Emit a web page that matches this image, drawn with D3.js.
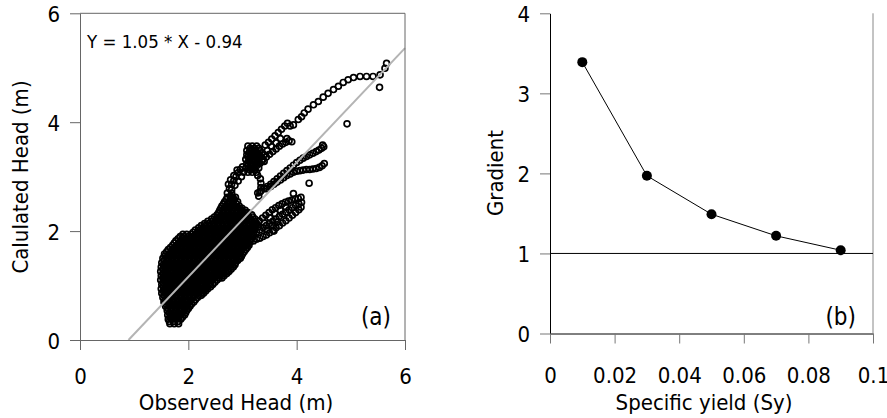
<!DOCTYPE html>
<html>
<head>
<meta charset="utf-8">
<script src="https://cdn.jsdelivr.net/npm/d3@7"></script>
<style>
  body { margin: 0; background: #fff; }
  svg text { font-family: "DejaVu Sans Condensed", "DejaVu Sans", sans-serif; font-stretch: condensed; fill: #000; }
</style>
</head>
<body>
<svg id="chart" width="887" height="418"></svg>
<script>
// ---- panel (a): observed vs calculated head ----
const headTicks = [0, 2, 4, 6];
const fitSlope = 1.05, fitIntercept = -0.94;
const fitRange = [0.895, 6];

// dense main cloud, read row by row: [calculated, [observed...]]
const cloudRows = [
  [0.30, [1.66, 1.74, 1.82]],
  [0.34, [1.65, 1.73, 1.81]],
  [0.38, [1.63, 1.70, 1.78, 1.86]],
  [0.42, [1.66, 1.74, 1.82, 1.89]],
  [0.46, [1.62, 1.70, 1.78, 1.86, 1.93]],
  [0.50, [1.65, 1.73, 1.81, 1.89, 1.95]],
  [0.54, [1.61, 1.68, 1.76, 1.84, 1.92, 1.97]],
  [0.58, [1.62, 1.70, 1.78, 1.86, 1.94, 2.00]],
  [0.62, [1.58, 1.66, 1.74, 1.82, 1.90, 1.97, 2.03]],
  [0.66, [1.59, 1.67, 1.75, 1.83, 1.91, 1.99, 2.06]],
  [0.70, [1.55, 1.63, 1.71, 1.79, 1.87, 1.95, 2.03, 2.10]],
  [0.74, [1.57, 1.65, 1.73, 1.81, 1.89, 1.97, 2.05, 2.13]],
  [0.78, [1.53, 1.61, 1.69, 1.77, 1.85, 1.93, 2.01, 2.09, 2.17]],
  [0.82, [1.55, 1.63, 1.71, 1.79, 1.87, 1.95, 2.03, 2.11, 2.19, 2.24]],
  [0.86, [1.51, 1.59, 1.67, 1.75, 1.83, 1.91, 1.99, 2.07, 2.15, 2.23, 2.28]],
  [0.90, [1.54, 1.62, 1.70, 1.78, 1.86, 1.94, 2.02, 2.10, 2.18, 2.26, 2.32]],
  [0.94, [1.50, 1.58, 1.66, 1.74, 1.82, 1.90, 1.98, 2.06, 2.14, 2.22, 2.30, 2.36]],
  [0.98, [1.54, 1.62, 1.70, 1.78, 1.86, 1.94, 2.02, 2.10, 2.18, 2.26, 2.34, 2.41]],
  [1.02, [1.51, 1.59, 1.67, 1.75, 1.83, 1.91, 1.99, 2.07, 2.15, 2.23, 2.31, 2.39, 2.45]],
  [1.06, [1.53, 1.61, 1.69, 1.77, 1.85, 1.93, 2.01, 2.09, 2.17, 2.25, 2.33, 2.41, 2.49]],
  [1.10, [1.49, 1.57, 1.65, 1.73, 1.81, 1.89, 1.97, 2.05, 2.13, 2.21, 2.29, 2.37, 2.45, 2.53]],
  [1.14, [1.53, 1.61, 1.69, 1.77, 1.85, 1.93, 2.01, 2.09, 2.17, 2.25, 2.33, 2.41, 2.49, 2.57, 2.62]],
  [1.18, [1.50, 1.58, 1.66, 1.74, 1.82, 1.90, 1.98, 2.06, 2.14, 2.22, 2.30, 2.38, 2.46, 2.54, 2.62, 2.66]],
  [1.22, [1.53, 1.61, 1.69, 1.77, 1.85, 1.93, 2.01, 2.09, 2.17, 2.25, 2.33, 2.41, 2.49, 2.57, 2.65, 2.71]],
  [1.26, [1.49, 1.57, 1.65, 1.73, 1.81, 1.89, 1.97, 2.05, 2.13, 2.21, 2.29, 2.37, 2.45, 2.53, 2.61, 2.69, 2.75]],
  [1.30, [1.53, 1.61, 1.69, 1.77, 1.85, 1.93, 2.01, 2.09, 2.17, 2.25, 2.33, 2.41, 2.49, 2.57, 2.65, 2.73, 2.79]],
  [1.34, [1.50, 1.58, 1.66, 1.74, 1.82, 1.90, 1.98, 2.06, 2.14, 2.22, 2.30, 2.38, 2.46, 2.54, 2.62, 2.70, 2.78, 2.83]],
  [1.38, [1.54, 1.62, 1.70, 1.78, 1.86, 1.94, 2.02, 2.10, 2.18, 2.26, 2.34, 2.42, 2.50, 2.58, 2.66, 2.74, 2.82, 2.86]],
  [1.42, [1.51, 1.59, 1.67, 1.75, 1.83, 1.91, 1.99, 2.07, 2.15, 2.23, 2.31, 2.39, 2.47, 2.55, 2.63, 2.71, 2.79, 2.87]],
  [1.46, [1.55, 1.63, 1.71, 1.79, 1.87, 1.95, 2.03, 2.11, 2.19, 2.27, 2.35, 2.43, 2.51, 2.59, 2.67, 2.75, 2.83, 2.91]],
  [1.50, [1.53, 1.61, 1.69, 1.77, 1.85, 1.93, 2.01, 2.09, 2.17, 2.25, 2.33, 2.41, 2.49, 2.57, 2.65, 2.73, 2.81, 2.89, 2.96]],
  [1.54, [1.57, 1.65, 1.73, 1.81, 1.89, 1.97, 2.05, 2.13, 2.21, 2.29, 2.37, 2.45, 2.53, 2.61, 2.69, 2.77, 2.85, 2.93, 2.98]],
  [1.58, [1.56, 1.64, 1.72, 1.80, 1.88, 1.96, 2.04, 2.12, 2.20, 2.28, 2.36, 2.44, 2.52, 2.60, 2.68, 2.76, 2.84, 2.92, 3.00]],
  [1.62, [1.60, 1.68, 1.76, 1.84, 1.92, 2.00, 2.08, 2.16, 2.24, 2.32, 2.40, 2.48, 2.56, 2.64, 2.72, 2.80, 2.88, 2.96, 3.03]],
  [1.66, [1.63, 1.71, 1.79, 1.87, 1.95, 2.03, 2.11, 2.19, 2.27, 2.35, 2.43, 2.51, 2.59, 2.67, 2.75, 2.83, 2.91, 2.99, 3.06]],
  [1.70, [1.67, 1.75, 1.83, 1.91, 1.99, 2.07, 2.15, 2.23, 2.31, 2.39, 2.47, 2.55, 2.63, 2.71, 2.79, 2.87, 2.95, 3.03, 3.09]],
  [1.74, [1.71, 1.79, 1.87, 1.95, 2.03, 2.11, 2.19, 2.27, 2.35, 2.43, 2.51, 2.59, 2.67, 2.75, 2.83, 2.91, 2.99, 3.07, 3.12]],
  [1.78, [1.74, 1.82, 1.90, 1.98, 2.06, 2.14, 2.22, 2.30, 2.38, 2.46, 2.54, 2.62, 2.70, 2.78, 2.86, 2.94, 3.02, 3.10]],
  [1.82, [1.77, 1.85, 1.93, 2.01, 2.09, 2.17, 2.25, 2.33, 2.41, 2.49, 2.57, 2.65, 2.73, 2.81, 2.89, 2.97, 3.05, 3.13]],
  [1.86, [1.81, 1.89, 1.97, 2.05, 2.13, 2.21, 2.29, 2.37, 2.45, 2.53, 2.61, 2.69, 2.77, 2.85, 2.93, 3.01, 3.09, 3.16]],
  [1.90, [1.85, 1.92, 2.00, 2.08, 2.16, 2.24, 2.32, 2.40, 2.48, 2.56, 2.64, 2.72, 2.80, 2.88, 2.96, 3.04, 3.12, 3.19]],
  [1.94, [1.90, 1.97, 2.05, 2.13, 2.21, 2.29, 2.37, 2.45, 2.53, 2.61, 2.69, 2.77, 2.85, 2.93, 3.01, 3.09, 3.17]],
  [1.98, [2.09, 2.17, 2.25, 2.33, 2.41, 2.49, 2.57, 2.65, 2.73, 2.81, 2.89, 2.97, 3.05, 3.13, 3.21]],
  [2.02, [2.13, 2.21, 2.29, 2.37, 2.45, 2.53, 2.61, 2.69, 2.77, 2.85, 2.93, 3.01, 3.09, 3.17, 3.22]],
  [2.06, [2.19, 2.27, 2.35, 2.43, 2.51, 2.59, 2.67, 2.75, 2.83, 2.91, 2.99, 3.07, 3.15, 3.23]],
  [2.10, [2.24, 2.32, 2.40, 2.48, 2.56, 2.64, 2.72, 2.80, 2.88, 2.96, 3.04, 3.12, 3.20, 3.25]],
  [2.14, [2.30, 2.38, 2.46, 2.54, 2.62, 2.70, 2.78, 2.86, 2.94, 3.02, 3.10, 3.18, 3.26]],
  [2.18, [2.36, 2.44, 2.52, 2.60, 2.68, 2.76, 2.84, 2.92, 3.00, 3.08, 3.16, 3.23]],
  [2.22, [2.43, 2.51, 2.59, 2.67, 2.75, 2.83, 2.91, 2.99, 3.07, 3.15, 3.23]],
  [2.26, [2.48, 2.56, 2.64, 2.72, 2.80, 2.88, 2.96, 3.04, 3.12, 3.19]],
  [2.30, [2.53, 2.61, 2.69, 2.77, 2.85, 2.93, 3.01, 3.09, 3.17]],
  [2.34, [2.56, 2.64, 2.72, 2.80, 2.88, 2.96, 3.04, 3.10]],
  [2.38, [2.58, 2.66, 2.74, 2.82, 2.90, 2.98, 3.05]],
  [2.42, [2.60, 2.68, 2.76, 2.84, 2.92, 2.99]],
  [2.46, [2.62, 2.70, 2.78, 2.86, 2.94]],
  [2.50, [2.65, 2.73, 2.81, 2.89]],
  [2.54, [2.67, 2.75, 2.83, 2.91]],
  [2.58, [2.70, 2.78, 2.85]],
  [2.62, [2.72, 2.80, 2.87]]
];

// lower right fan  [observed, calculated]
const lowerFan = [
  [3.08,1.78],[3.14,1.80],[3.20,1.82],[3.26,1.85],[3.32,1.87],[3.38,1.90],[3.44,1.93],[3.50,1.97],[3.56,2.01],
  [3.62,2.06],[3.68,2.10],[3.74,2.15],[3.80,2.19],[3.86,2.24],[3.92,2.29],[3.98,2.34],[4.04,2.39],[4.08,2.44],
  [3.20,1.95],[3.26,1.98],[3.32,2.02],[3.38,2.06],[3.44,2.10],[3.50,2.14],[3.56,2.18],[3.62,2.22],[3.68,2.27],
  [3.74,2.31],[3.80,2.35],[3.86,2.39],[3.92,2.43],[3.98,2.47],[4.04,2.50],[4.09,2.53],
  [3.25,2.14],[3.31,2.19],[3.37,2.24],[3.43,2.29],[3.49,2.34],[3.55,2.39],[3.61,2.43],[3.67,2.47],[3.73,2.50],
  [3.79,2.53],[3.85,2.55],[3.91,2.57],[3.97,2.59],[4.03,2.60],[4.08,2.62],
  [3.30,2.08],[3.40,2.15],[3.50,2.25],[3.60,2.32],[3.70,2.38],[3.80,2.44],[3.45,2.02],[3.55,2.10],[3.65,2.17]
];

// two streaks leaving the fit line towards x = 4.5
const middleStreaks = [
  [3.28,2.70],[3.34,2.74],[3.40,2.78],[3.46,2.82],[3.52,2.86],[3.58,2.91],[3.64,2.96],[3.70,3.01],[3.76,3.06],
  [3.82,3.11],[3.88,3.16],[3.94,3.21],[4.00,3.26],[4.06,3.30],[4.12,3.34],[4.18,3.37],[4.24,3.40],[4.30,3.43],
  [4.36,3.46],[4.41,3.49],[4.46,3.52],[4.50,3.55],[4.48,3.58],
  [3.45,2.78],[3.52,2.82],[3.58,2.86],[3.64,2.90],[3.70,2.94],[3.76,2.98],[3.82,3.02],[3.88,3.05],[3.94,3.08],
  [4.00,3.10],[4.06,3.11],[4.12,3.12],[4.18,3.13],[4.24,3.13],[4.30,3.14],[4.36,3.15],[4.42,3.17],[4.47,3.20],[4.51,3.24]
];

// upper branch above the fit line
const upperBranch = [
  [2.72,2.70],[2.76,2.78],[2.80,2.86],[2.84,2.93],[2.88,3.00],[2.92,3.07],[2.96,3.13],[3.00,3.18],
  [2.80,2.76],[2.86,2.84],[2.92,2.92],[2.98,3.00],[3.02,3.08],[2.74,2.86],[2.78,2.94],[2.84,3.02],[2.90,3.12],
  [2.82,2.62],[2.78,2.64],[2.80,2.70],
  [3.30,2.64],[3.32,2.72],[3.34,2.80],[3.34,2.88],[3.33,2.96],[3.28,3.02],
  [3.10,3.08],[3.18,3.08],[3.26,3.08],[3.14,3.12],[3.22,3.12],
  [3.06,3.16],[3.14,3.16],[3.22,3.16],[3.30,3.16],[3.10,3.20],[3.18,3.20],[3.26,3.20],
  [3.08,3.24],[3.16,3.24],[3.24,3.24],[3.32,3.24],[3.12,3.28],[3.20,3.28],[3.28,3.28],[3.36,3.28],
  [3.06,3.32],[3.14,3.32],[3.22,3.32],[3.30,3.32],[3.38,3.32],[3.10,3.36],[3.18,3.36],[3.26,3.36],[3.34,3.36],
  [3.08,3.40],[3.16,3.40],[3.24,3.40],[3.32,3.40],[3.40,3.40],[3.12,3.44],[3.20,3.44],[3.28,3.44],[3.36,3.44],
  [3.08,3.48],[3.16,3.48],[3.24,3.48],[3.32,3.48],[3.14,3.52],[3.22,3.52],[3.30,3.52],
  [3.10,3.56],[3.18,3.56],[3.26,3.56],
  [3.42,3.58],[3.48,3.63],[3.54,3.69],[3.60,3.75],[3.66,3.81],[3.72,3.87],[3.78,3.93],[3.83,3.98],
  [3.44,3.36],[3.50,3.41],[3.56,3.46],[3.62,3.51],[3.68,3.56],[3.74,3.60],[3.80,3.63],[3.86,3.66],
  [3.46,3.48],[3.54,3.55],[3.62,3.62],[3.70,3.70],[3.40,3.28]
];

// sparse arc towards the top right
const upperArc = [
  [3.88,3.93],[3.94,3.95],[4.03,4.05],[4.09,4.10],[4.14,4.17],[4.21,4.24],[4.31,4.32],[4.40,4.38],[4.49,4.46],
  [4.58,4.53],[4.68,4.60],[4.77,4.66],[4.86,4.73],[4.95,4.78],[5.05,4.82],[5.17,4.84],[5.29,4.84],[5.41,4.84],
  [5.54,4.87],[5.63,4.99],[5.66,5.08]
];

const outliers = [
  [5.53,4.64],[4.93,3.97],[3.91,3.64],[3.82,3.70],[4.23,2.88],[3.94,2.69],[2.95,1.55],[3.58,2.00]
];

// ---- panel (b): gradient vs specific yield ----
const specificYield = [0.01, 0.03, 0.05, 0.07, 0.09];
const gradient = [3.39, 1.97, 1.49, 1.22, 1.04];
const syTicks = [0, 0.02, 0.04, 0.06, 0.08, 0.1];
const syTickLabels = ['0', '0.02', '0.04', '0.06', '0.08', '0.1'];
const gradTicks = [0, 1, 2, 3, 4];

const svg = d3.select('#chart');
const fs = 22;

// panel (a)
const xA = d3.scaleLinear().domain([0, 6]).range([80, 405]);
const yA = d3.scaleLinear().domain([0, 6]).range([340, 13.3]);

const points = [];
cloudRows.forEach(r => r[1].forEach(o => points.push([o, r[0]])));
[lowerFan, middleStreaks, upperBranch, upperArc, outliers].forEach(a => a.forEach(p => points.push(p)));

const gA = svg.append('g');

gA.selectAll('circle.obs')
  .data(points)
  .enter()
  .append('circle')
  .attr('class', 'obs')
  .attr('cx', d => xA(d[0]))
  .attr('cy', d => yA(d[1]))
  .attr('r', 2.95)
  .attr('fill', 'none')
  .attr('stroke', '#000')
  .attr('stroke-width', 1.7);

gA.append('line')
  .attr('x1', xA(fitRange[0])).attr('y1', yA(fitSlope * fitRange[0] + fitIntercept))
  .attr('x2', xA(fitRange[1])).attr('y2', yA(fitSlope * fitRange[1] + fitIntercept))
  .attr('stroke', '#b4b4b4')
  .attr('stroke-width', 2);

const axA_left = gA.append('g')
  .attr('transform', 'translate(80,0)')
  .call(d3.axisLeft(yA).tickValues(headTicks).tickSize(10).tickSizeOuter(0).tickFormat(d3.format('d')));
const axA_bottom = gA.append('g')
  .attr('transform', 'translate(0,340)')
  .call(d3.axisBottom(xA).tickValues(headTicks).tickSize(10).tickSizeOuter(0).tickFormat(d3.format('d')));

[axA_left, axA_bottom].forEach(ax => {
  ax.selectAll('path, line').attr('stroke', '#666');
  ax.selectAll('text').attr('font-size', fs).attr('fill', '#000');
  ax.attr('font-family', null);
});
axA_left.selectAll('text').attr('x', -20).attr('dy', '0.38em');
axA_bottom.selectAll('text').attr('y', 44).attr('dy', 0);

// frame top / right
gA.append('line').attr('x1', xA(0)).attr('x2', xA(6)).attr('y1', yA(6)).attr('y2', yA(6)).attr('stroke', '#666');
gA.append('line').attr('x1', xA(6)).attr('x2', xA(6)).attr('y1', yA(6)).attr('y2', yA(0)).attr('stroke', '#666');

gA.append('text')
  .attr('x', 87).attr('y', 48)
  .attr('font-size', 18.5)
  .text('Y = 1.05 * X - 0.94');

gA.append('text')
  .attr('x', 391).attr('y', 325)
  .attr('text-anchor', 'end')
  .attr('font-size', 24)
  .text('(a)');

gA.append('text')
  .attr('x', 236).attr('y', 410)
  .attr('text-anchor', 'middle')
  .attr('font-size', fs)
  .text('Observed Head (m)');

gA.append('text')
  .attr('transform', 'translate(28,177) rotate(-90)')
  .attr('text-anchor', 'middle')
  .attr('font-size', fs)
  .text('Calulated Head (m)');

// panel (b)
const xB = d3.scaleLinear().domain([0, 0.1]).range([550, 873]);
const yB = d3.scaleLinear().domain([0, 4]).range([333.5, 13.3]);
const gB = svg.append('g');

const axB_left = gB.append('g')
  .attr('transform', 'translate(550,0)')
  .call(d3.axisLeft(yB).tickValues(gradTicks).tickSize(10).tickSizeOuter(0).tickFormat(d3.format('d')));
const axB_bottom = gB.append('g')
  .attr('transform', 'translate(0,333.5)')
  .call(d3.axisBottom(xB).tickValues(syTicks).tickSize(10).tickSizeOuter(0)
    .tickFormat((d, i) => syTickLabels[i]));

[axB_left, axB_bottom].forEach(ax => {
  ax.select('path').attr('stroke', '#000');
  ax.selectAll('line').attr('stroke', '#777');
  ax.selectAll('text').attr('font-size', fs).attr('fill', '#000');
  ax.attr('font-family', null);
});
axB_left.selectAll('text').attr('x', -20).attr('dy', '0.38em');
axB_bottom.selectAll('text').attr('y', 49).attr('dy', 0);

gB.append('line').attr('x1', xB(0.1)).attr('x2', xB(0.1)).attr('y1', yB(4)).attr('y2', yB(0)).attr('stroke', '#888');
gB.append('line').attr('x1', xB(0)).attr('x2', xB(0.1)).attr('y1', yB(1)).attr('y2', yB(1)).attr('stroke', '#000');

const series = specificYield.map((s, i) => [s, gradient[i]]);
gB.append('path')
  .datum(series)
  .attr('fill', 'none')
  .attr('stroke', '#000')
  .attr('stroke-width', 1)
  .attr('d', d3.line().x(d => xB(d[0])).y(d => yB(d[1])));

gB.selectAll('circle.pt')
  .data(series)
  .enter()
  .append('circle')
  .attr('class', 'pt')
  .attr('cx', d => xB(d[0]))
  .attr('cy', d => yB(d[1]))
  .attr('r', 5)
  .attr('fill', '#000');

gB.append('text')
  .attr('x', 856).attr('y', 325)
  .attr('text-anchor', 'end')
  .attr('font-size', 24)
  .text('(b)');

gB.append('text')
  .attr('x', 704).attr('y', 410)
  .attr('text-anchor', 'middle')
  .attr('font-size', fs)
  .text('Specific yield (Sy)');

gB.append('text')
  .attr('transform', 'translate(503,173) rotate(-90)')
  .attr('text-anchor', 'middle')
  .attr('font-size', fs)
  .text('Gradient');
</script>
</body>
</html>
